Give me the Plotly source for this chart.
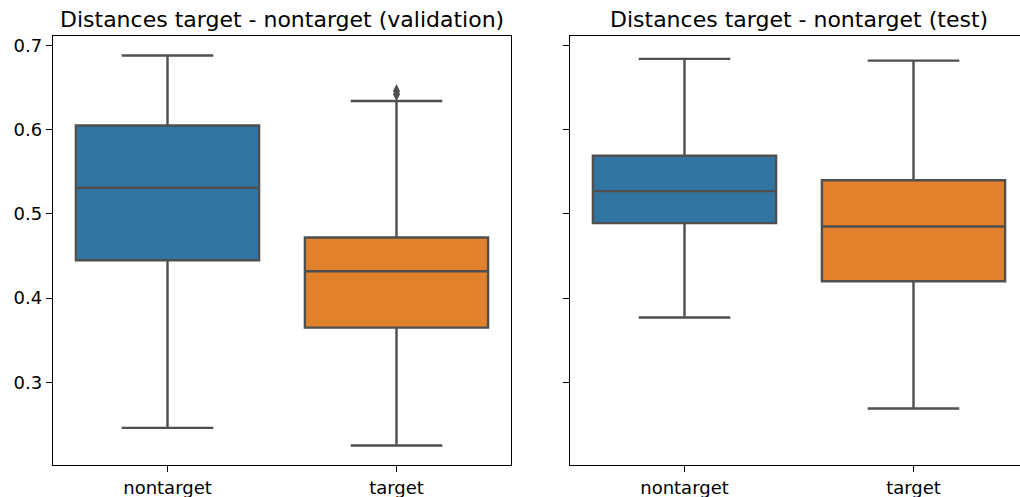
import plotly.graph_objects as go

categories = ["nontarget", "target"]
colors = ["#3274a1", "#e1812c"]

# validation stats
val_lower = [0.246, 0.225]
val_q1 = [0.445, 0.365]
val_median = [0.531, 0.432]
val_q3 = [0.605, 0.472]
val_upper = [0.688, 0.634]
val_outliers_target = [0.642, 0.646]

# test stats
test_lower = [0.377, 0.269]
test_q1 = [0.489, 0.420]
test_median = [0.527, 0.485]
test_q3 = [0.569, 0.540]
test_upper = [0.684, 0.682]

titles = ["Distances target - nontarget (validation)", "Distances target - nontarget (test)"]
yticks = [0.3, 0.4, 0.5, 0.6, 0.7]

LINE = "#4f4f4f"
fig = go.Figure()

panels = [
    ("x", "y", val_lower, val_q1, val_median, val_q3, val_upper),
    ("x2", "y2", test_lower, test_q1, test_median, test_q3, test_upper),
]
for xa, ya, lo, q1, med, q3, up in panels:
    for i, cat in enumerate(categories):
        fig.add_trace(go.Box(
            x=[cat], q1=[q1[i]], median=[med[i]], q3=[q3[i]],
            lowerfence=[lo[i]], upperfence=[up[i]],
            fillcolor=colors[i], line=dict(color=LINE, width=2.4),
            width=0.8, whiskerwidth=0.5, boxpoints=False,
            xaxis=xa, yaxis=ya, showlegend=False, hoverinfo="skip",
        ))

fig.add_trace(go.Scatter(
    x=["target"] * len(val_outliers_target), y=val_outliers_target,
    mode="markers", marker=dict(symbol="diamond-tall", size=10, color=LINE),
    xaxis="x", yaxis="y", showlegend=False, hoverinfo="skip",
))

# the right panel runs slightly past the window edge, as in the reference
W, H = 1028, 497
l, r, t, b = 53, 0, 36, 32
pw = W - l - r
d1 = [0, 458 / pw]
d2 = [517 / pw, 1.0]

axis_common = dict(
    showline=True, linecolor="black", linewidth=1.3, mirror=True,
    ticks="outside", ticklen=6, tickwidth=1.3, tickcolor="black", showgrid=False, zeroline=False,
    tickfont=dict(family="DejaVu Sans", size=18, color="black"),
)
yrange = [0.2019, 0.7112]

fig.update_layout(
    width=W, height=H, margin=dict(l=l, r=r, t=t, b=b, autoexpand=False),
    plot_bgcolor="white", paper_bgcolor="white", boxmode="overlay",
    xaxis=dict(domain=d1, type="category", categoryorder="array", categoryarray=categories,
               range=[-0.5, 1.5], anchor="y", **axis_common),
    xaxis2=dict(domain=d2, type="category", categoryorder="array", categoryarray=categories,
                range=[-0.5, 1.5], anchor="y2", **axis_common),
    yaxis=dict(range=yrange, tickvals=yticks, ticktext=[f"{v:.1f}" for v in yticks],
               anchor="x", **axis_common),
    yaxis2=dict(range=yrange, tickvals=yticks, showticklabels=False, anchor="x2",
                matches="y", **axis_common),
    font=dict(family="DejaVu Sans", color="black"),
)

for title, d in zip(titles, [d1, d2]):
    fig.add_annotation(
        text=title, x=(d[0] + d[1]) / 2, xref="paper", xanchor="center",
        y=1, yref="paper", yanchor="bottom", yshift=2, showarrow=False,
        font=dict(family="DejaVu Sans", size=22, color="black"),
    )

fig.write_html(
    "out.html",
    config={"displayModeBar": False},
    post_script="document.body.style.margin='0';document.body.style.overflow='hidden';",
)
